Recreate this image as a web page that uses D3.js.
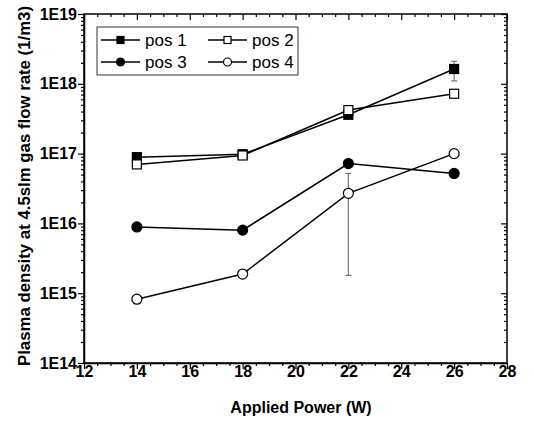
<!DOCTYPE html>
<html><head><meta charset="utf-8">
<script src="https://cdn.jsdelivr.net/npm/d3@7"></script>
<style>body{margin:0;background:#fff}</style>
</head><body><svg id="c" width="534" height="423"></svg>
<script>
const power = [14, 18, 22, 26];
const pos1 = [8.9e16, 9.8e16, 3.6e17, 1.63e18];
const pos2 = [7.0e16, 9.4e16, 4.2e17, 7.2e17];
const pos3 = [8.9e15, 8.0e15, 7.2e16, 5.2e16];
const pos4 = [8.2e14, 1.88e15, 2.7e16, 1.0e17];
const errPos1 = [{x: 26, lo: 1.1e18, hi: 2.1e18}];
const errPos4 = [{x: 22, lo: 1.8e15, hi: 5.2e16}];
const xTicks = [12, 14, 16, 18, 20, 22, 24, 26, 28];
const yTicks = [1e14, 1e15, 1e16, 1e17, 1e18, 1e19];
const yTickLabels = ["1E14", "1E15", "1E16", "1E17", "1E18", "1E19"];
const seriesNames = ["pos 1", "pos 2", "pos 3", "pos 4"];

const svg = d3.select("#c");
const L = 84, R = 507, T = 14, B = 363;
const x = d3.scaleLinear().domain([12, 28]).range([L, R]);
const y = d3.scaleLog().domain([1e14, 1e19]).range([B, T]);
const font = "Liberation Sans, Arial, sans-serif";

const xMinor = d3.range(12, 28.01, 0.5).filter(v => !xTicks.includes(v));
const yMinor = [];
for (let e = 14; e < 19; e++) for (let m = 2; m <= 9; m++) yMinor.push(m * Math.pow(10, e));

const g = svg.append("g");
const bottom = d3.axisBottom(x).tickValues(xTicks).tickSize(6).tickSizeOuter(0).tickFormat(d3.format("d"));
const ga = g.append("g").attr("transform", `translate(0,${B})`).call(bottom);
ga.attr("font-size", 16).attr("font-family", font).attr("font-weight", "bold");
ga.selectAll("text").attr("fill", "#000").attr("y", 3);
g.append("g").attr("transform", `translate(0,${B})`).call(d3.axisBottom(x).tickValues(xMinor).tickSize(3).tickFormat("")).select(".domain").remove();
g.append("g").attr("transform", `translate(0,${T})`).call(d3.axisBottom(x).tickValues(xTicks).tickSize(6).tickFormat("")).select(".domain").remove();
g.append("g").attr("transform", `translate(0,${T})`).call(d3.axisBottom(x).tickValues(xMinor).tickSize(3).tickFormat("")).select(".domain").remove();
const left = d3.axisLeft(y).tickValues(yTicks).tickSize(6).tickSizeOuter(0).tickFormat((d, i) => yTickLabels[i]);
const gl = g.append("g").attr("transform", `translate(${L},0)`).call(left);
gl.attr("font-size", 16).attr("font-family", font).attr("font-weight", "bold");
gl.selectAll("text").attr("fill", "#000").attr("x", -7);
g.append("g").attr("transform", `translate(${L},0)`).call(d3.axisLeft(y).tickValues(yMinor).tickSize(3).tickFormat("")).select(".domain").remove();
g.append("g").attr("transform", `translate(${R},0)`).call(d3.axisLeft(y).tickValues(yTicks).tickSize(6).tickFormat("")).select(".domain").remove();
g.append("g").attr("transform", `translate(${R},0)`).call(d3.axisLeft(y).tickValues(yMinor).tickSize(3).tickFormat("")).select(".domain").remove();
g.append("rect").attr("x", L).attr("y", T).attr("width", R - L).attr("height", B - T).attr("fill", "none").attr("stroke", "#000").attr("stroke-width", 1.5);
g.selectAll(".tick line").attr("stroke", "#000").attr("stroke-width", 1.2);
g.selectAll(".domain").attr("stroke", "#000").attr("stroke-width", 1.5);

svg.append("text").attr("x", 301).attr("y", 413).attr("text-anchor", "middle").attr("font-family", font).attr("font-weight", "bold").attr("font-size", 16).text("Applied Power (W)");
svg.append("text").attr("transform", "translate(30,186) rotate(-90)").attr("text-anchor", "middle").attr("font-family", font).attr("font-weight", "bold").attr("font-size", 16.8).text("Plasma density at 4.5slm gas flow rate (1/m3)");

function errBars(data) {
  data.forEach(d => {
    const eg = svg.append("g").attr("stroke", "#777").attr("stroke-width", 1.2);
    eg.append("line").attr("x1", x(d.x)).attr("x2", x(d.x)).attr("y1", y(d.lo)).attr("y2", y(d.hi));
    eg.append("line").attr("x1", x(d.x) - 3).attr("x2", x(d.x) + 3).attr("y1", y(d.lo)).attr("y2", y(d.lo));
    eg.append("line").attr("x1", x(d.x) - 3).attr("x2", x(d.x) + 3).attr("y1", y(d.hi)).attr("y2", y(d.hi));
  });
}
errBars(errPos1);
errBars(errPos4);

const line = d3.line().x((d, i) => x(power[i])).y(d => y(d));
const series = [
  {vals: pos1, shape: "square", fill: "#000"},
  {vals: pos2, shape: "square", fill: "#fff"},
  {vals: pos3, shape: "circle", fill: "#000"},
  {vals: pos4, shape: "circle", fill: "#fff"}
];
function marker(sel, s, cx, cy, size) {
  if (s.shape === "square") {
    sel.append("rect").attr("x", cx - size / 2).attr("y", cy - size / 2).attr("width", size).attr("height", size)
      .attr("fill", s.fill).attr("stroke", "#000").attr("stroke-width", 1.2);
  } else {
    sel.append("circle").attr("cx", cx).attr("cy", cy).attr("r", size / 2 + 0.5)
      .attr("fill", s.fill).attr("stroke", "#000").attr("stroke-width", 1.2);
  }
}
series.forEach(s => {
  svg.append("path").datum(s.vals).attr("d", line).attr("fill", "none").attr("stroke", "#000").attr("stroke-width", 1.5);
});
series.forEach(s => {
  const mg = svg.append("g");
  s.vals.forEach((v, i) => marker(mg, s, x(power[i]), y(v), 9));
});

const lg = svg.append("g");
lg.append("rect").attr("x", 97).attr("y", 27).attr("width", 201).attr("height", 48).attr("fill", "#fff").attr("stroke", "#333").attr("stroke-width", 1);
const legPos = [[101, 40], [208, 40], [101, 62], [208, 62]];
series.forEach((s, i) => {
  const [lx, ly] = legPos[i];
  lg.append("line").attr("x1", lx).attr("x2", lx + 39).attr("y1", ly).attr("y2", ly).attr("stroke", "#000").attr("stroke-width", 1.5);
  marker(lg, s, lx + 19.5, ly, 7);
  lg.append("text").attr("x", lx + 44).attr("y", ly).attr("dy", "0.35em").attr("font-family", font).attr("font-size", 17).text(seriesNames[i]);
});
</script></body></html>
